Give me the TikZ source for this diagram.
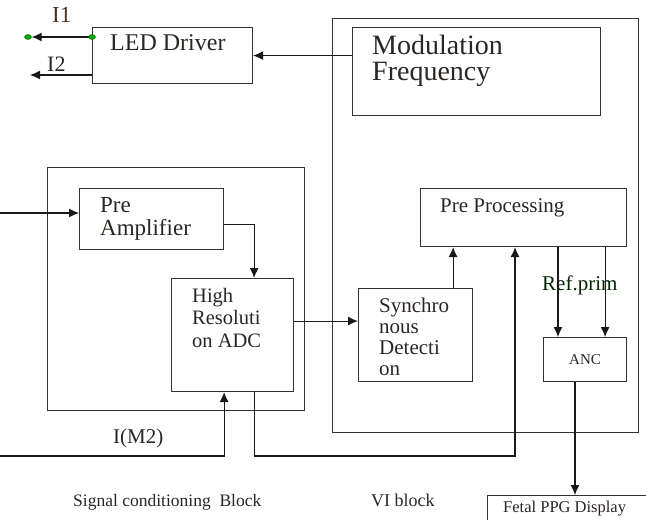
\documentclass[tikz,border=0pt]{standalone}
\usepackage{fontspec}
\setmainfont{Liberation Serif}
\usetikzlibrary{shapes, arrows.meta, positioning, calc}
\definecolor{inkgray}{RGB}{42,38,36}
\newcommand{\linesof}[1]{\begin{tabular}[t]{@{}l@{}}#1\end{tabular}}

\begin{document}
\begin{tikzpicture}[
    x=1pt, y=-1pt,
    block/.style={draw=black!80, line width=1.1pt, inner sep=0pt, anchor=north west},
    txt/.style={inner sep=0pt, anchor=base west, text=inkgray},
    arrow/.style={line width=1.1pt, draw=black!90, -{Latex[length=10pt,width=9pt]}},
    gdot/.style={ellipse, fill=green!65!black, draw=green!40!black, minimum width=7pt, minimum height=5pt, inner sep=0pt}
]
\useasboundingbox (0,0) rectangle (646,520);

% outer blocks
\node (vi) [block, minimum width=306pt, minimum height=414pt] at (332,18) {};
\node (sc) [block, minimum width=257pt, minimum height=243pt] at (47,167) {};

% LED driver and modulation
\node (led) [block, minimum width=160pt, minimum height=56pt] at (92,27) {};
\node (mod) [block, minimum width=248pt, minimum height=88pt] at (352,27) {};

% signal conditioning
\node (pre) [block, minimum width=144pt, minimum height=61pt] at (79,188) {};
\node (adc) [block, minimum width=122pt, minimum height=113pt] at (171,278) {};

% VI block
\node (syn) [block, minimum width=114pt, minimum height=93pt] at (358,288) {};
\node (pp) [block, minimum width=206pt, minimum height=58pt] at (420,188) {};
\node (anc) [block, minimum width=83pt, minimum height=44pt] at (543,337) {};

% display
\node (fetal) [block, minimum width=220pt, minimum height=60pt] at (487,495) {};

% texts
\node [txt, font=\fontsize{24}{26}\selectfont] at (110,50) {LED Driver};
\node [txt, font=\fontsize{28}{26}\selectfont] at (372,54) {\linesof{Modulation\\Frequency}};
\node [txt, font=\fontsize{23}{23}\selectfont] at (100,212) {\linesof{Pre\\Amplifier}};
\node [txt, font=\fontsize{20.5}{22.5}\selectfont] at (192,302) {\linesof{High\\Resoluti\\on ADC}};
\node [txt, font=\fontsize{21}{21}\selectfont] at (379,312) {\linesof{Synchro\\nous\\Detecti\\on}};
\node [txt, font=\fontsize{21}{21}\selectfont] at (440,212) {Pre Processing};
\node [txt, font=\fontsize{15}{17}\selectfont, anchor=center] at (anc.center) {ANC};
\node [txt, font=\fontsize{21}{21}\selectfont, text=green!15!black] at (542,290) {Ref.prim};
\node [txt, font=\fontsize{16.5}{18}\selectfont] at (503,512) {Fetal PPG Display};
\node [txt, font=\fontsize{17.5}{20}\selectfont] at (73,506) {Signal conditioning\ \ Block};
\node [txt, font=\fontsize{18}{20}\selectfont] at (371,506) {VI block};
\node [txt, font=\fontsize{21}{21}\selectfont] at (113,443) {I(M2)};
\node [txt, font=\fontsize{23}{23}\selectfont, text=brown!40!black] at (52,22) {I1};
\node [txt, font=\fontsize{22}{22}\selectfont] at (47,71) {I2};

% LED outputs
\coordinate (ledpin) at ([yshift=-10pt]led.north west);
\node (dotL) [gdot] at (28,37) {};
\draw [arrow] (ledpin) -- (dotL);
\node (dotR) [gdot] at (ledpin) {};
\coordinate (i2end) at (30,75);
\draw [arrow] ([yshift=-48pt]led.north west) -- (i2end);

% arrows
\draw [arrow] (mod.west |- led.east) -- (led.east);
\coordinate (in) at (0,213);
\draw [arrow] (in) -- (in -| pre.west);
\draw [arrow] ([yshift=-5pt]pre.east) -| ([xshift=-40pt]adc.north east);
\draw [arrow] ([yshift=14pt]adc.east) -- ([yshift=14pt]adc.east -| syn.west);
\coordinate (s1) at ([xshift=-20pt]syn.north east);
\draw [arrow] (s1) -- (s1 |- pp.south);
\coordinate (loop) at (515,456);
\draw [arrow] ([xshift=-40pt]adc.south east) |- (loop) -- (loop |- pp.south);
\coordinate (im2) at (0,456);
\draw [arrow] (im2) -| ([xshift=-70pt]adc.south east);
\coordinate (r1) at ([xshift=15pt]anc.north west);
\coordinate (r2) at ([xshift=-22pt]anc.north east);
\draw [arrow] (r1 |- pp.south) -- (r1);
\draw [arrow] (r2 |- pp.south) -- (r2);
\coordinate (a1) at ([xshift=32pt]anc.south west);
\draw [arrow] (a1) -- (a1 |- fetal.north);

\end{tikzpicture}
\end{document}
